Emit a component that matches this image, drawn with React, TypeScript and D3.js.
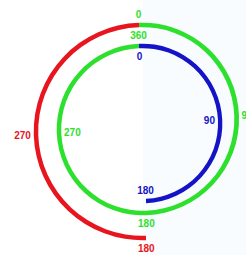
import * as d3 from "d3";

// series
const seriesNames = ["red", "green", "blue"];
const seriesColors = ["#e8141e", "#2ee02e", "#1414c6"];

// half-circle pieces, drawn clockwise in degrees
const pieceSeries = ["green", "green", "red", "blue"];
const pieceFrom = [0, 180, 180, 0];
const pieceTo = [180, 360, 360, 180];

// degree labels
const labelSeries = ["green", "green", "green", "green", "green", "red", "red", "blue", "blue", "blue"];
const labelDeg = [0, 90, 180, 270, 360, 270, 180, 0, 90, 180];
const labelOutside = [true, true, true, false, true, true, true, false, false, false];

// layout: where each piece's ends sit (top end y, bottom end y)
const W = 246;
const H = 255;
const topX = 139;
const botX = 146;
const pieceTopY = [25, 46, 25, 46];
const pieceBotY = [213, 213, 238, 201];
const strokeW = 4.5;

function geom(i: number) {
  const dx = botX - topX;
  const dy = pieceBotY[i] - pieceTopY[i];
  const r = Math.sqrt(dx * dx + dy * dy) / 2;
  const cx = (topX + botX) / 2;
  const cy = (pieceTopY[i] + pieceBotY[i]) / 2;
  const tilt = Math.atan2(dx, dy);
  return { r, cx, cy, tilt };
}

const toRad = d3.scaleLinear().domain([0, 360]).range([0, 2 * Math.PI]);

export default function App() {
  const color = d3.scaleOrdinal<string, string>().domain(seriesNames).range(seriesColors);

  const pieces = pieceSeries.map((s, i) => {
    const g = geom(i);
    const path = d3.arc()({
      innerRadius: g.r - strokeW / 2,
      outerRadius: g.r + strokeW / 2,
      startAngle: toRad(pieceFrom[i]) - g.tilt,
      endAngle: toRad(pieceTo[i]) - g.tilt,
    } as any);
    return { s, g, path };
  });

  const labels = labelSeries.map((s, i) => {
    const d = labelDeg[i];
    const idx = pieceSeries.findIndex((ps, j) => ps === s && d >= pieceFrom[j] && d <= pieceTo[j]);
    const g = geom(idx);
    const a = toRad(d) - g.tilt;
    const text = String(d);
    const halfW = (text.length * 5.6) / 2;
    const horiz = Math.abs(Math.sin(a)) > 0.7;
    const gap = horiz ? 5 + halfW : 10.5;
    const rr = labelOutside[i] ? g.r + gap : g.r - gap;
    return {
      s,
      text,
      x: g.cx + rr * Math.sin(a),
      y: g.cy - rr * Math.cos(a),
    };
  });

  return (
    <svg
      width={W}
      height={H}
      style={{ position: "absolute", left: 0, top: 0, display: "block" }}
      fontFamily="Liberation Sans, Arial, sans-serif"
    >
      <rect x={0} y={0} width={W} height={H} fill="#ffffff" />
      <rect x={143} y={0} width={W - 143} height={H} fill="#f9fcfe" />
      {pieces.map((p, i) => (
        <path
          key={i}
          d={p.path ?? ""}
          transform={`translate(${p.g.cx},${p.g.cy})`}
          fill={color(p.s)}
        />
      ))}
      {labels.map((l, i) => (
        <text
          key={i}
          x={l.x}
          y={l.y}
          textAnchor="middle"
          dominantBaseline="central"
          fontSize={10}
          fontWeight="bold"
          fill={color(l.s)}
        >
          {l.text}
        </text>
      ))}
    </svg>
  );
}
